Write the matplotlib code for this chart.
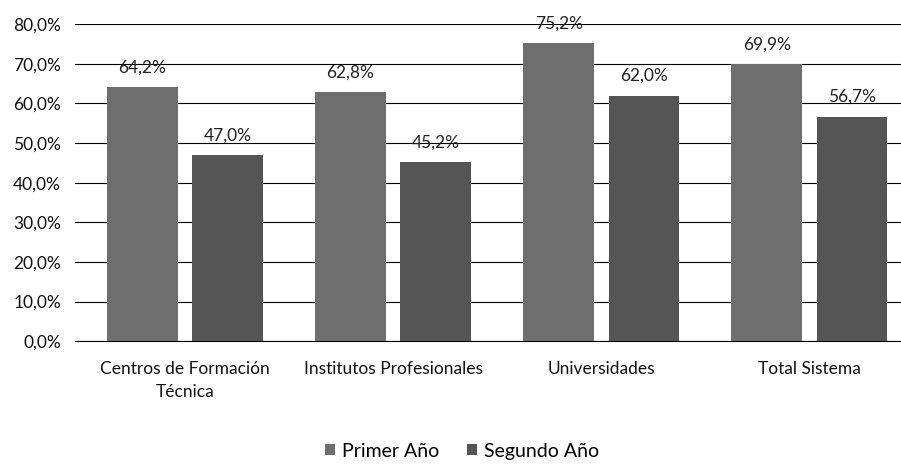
import numpy as np
import matplotlib.pyplot as plt

plt.rcParams['font.family'] = ['Lato', 'DejaVu Sans']

categories = ["Centros de Formación\nTécnica", "Institutos Profesionales",
              "Universidades", "Total Sistema"]
primer_anio = [64.2, 62.8, 75.2, 69.9]
segundo_anio = [47.0, 45.2, 62.0, 56.7]
yticks = [0, 10, 20, 30, 40, 50, 60, 70, 80]

fig = plt.figure(figsize=(9.01, 4.66), dpi=100)
ax = fig.add_axes([0.083, 0.268, 0.917, 0.68])

x = np.arange(len(categories))
w = 0.34
off = 0.205

b1 = ax.bar(x - off, primer_anio, w, color="#6e6e6e", label="Primer Año", zorder=3)
b2 = ax.bar(x + off, segundo_anio, w, color="#555555", label="Segundo Año", zorder=3)

for bars, vals in ((b1, primer_anio), (b2, segundo_anio)):
    for rect, v in zip(bars, vals):
        ax.annotate(f"{v:.1f}%".replace(".", ","),
                    (rect.get_x() + rect.get_width() / 2, v),
                    xytext=(0, 14), textcoords="offset points",
                    ha="center", va="center", fontsize=12.5, color="#222222")

ax.set_xlim(-0.53, 3.44)
ax.set_ylim(0, 80)
ax.set_yticks(yticks)
ax.set_yticklabels([f"{t:.1f}%".replace(".", ",") for t in yticks],
                   fontsize=12.5, color="#111111")
ax.set_xticks(x)
ax.set_xticklabels(categories, fontsize=12.5, color="#111111", linespacing=1.6)
ax.tick_params(axis="both", length=0)
ax.tick_params(axis="x", pad=14)
ax.tick_params(axis="y", pad=10)
ax.yaxis.grid(True, color="black", linewidth=0.8, zorder=0)
for s in ("top", "right", "left"):
    ax.spines[s].set_visible(False)
ax.spines["bottom"].set_color("black")
ax.spines["bottom"].set_linewidth(0.8)

fig.legend(handles=[b1, b2], loc="center", bbox_to_anchor=(0.513, 0.032), ncol=2,
           frameon=False, fontsize=14, handlelength=0.5, handleheight=0.5,
           handletextpad=0.4, columnspacing=1.4)

fig.savefig("out.png", dpi=100, facecolor="white")
